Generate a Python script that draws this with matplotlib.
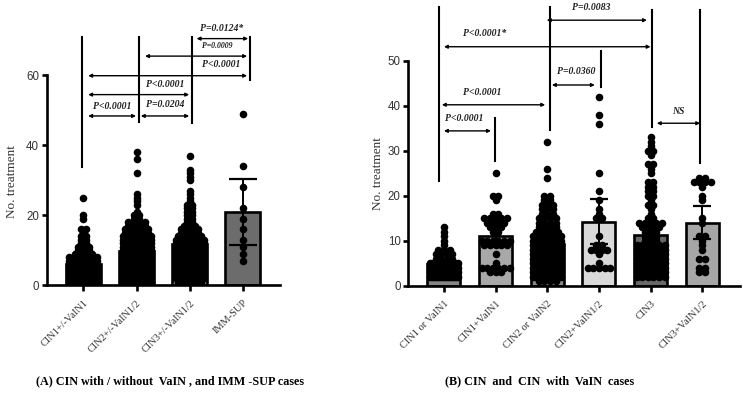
import numpy as np
import matplotlib
matplotlib.use("Agg")
import matplotlib.pyplot as plt

# ---------------- data: panel A ----------------
a_labels = ["CIN1+/-VaIN1", "CIN2+/-VaIN1/2", "CIN3+/-VaIN1/2", "IMM-SUP"]
a_means = [6.0, 9.6, 11.8, 20.8]
a_err_lo = [5.4, 8.8, 10.8, 11.5]
a_err_hi = [6.6, 10.4, 12.8, 30.2]

a1_vals = [1, 2, 3, 4, 5, 6, 7, 8, 9, 10, 11, 12, 13, 14, 15, 16, 19, 20, 25]
a1_cnts = [20, 25, 25, 22, 20, 16, 12, 7, 4, 3, 3, 2, 2, 2, 1, 2, 1, 1, 1]
a2_vals = [1, 2, 3, 4, 5, 6, 7, 8, 9, 10, 11, 12, 13, 14, 15, 16, 17, 18, 19, 20, 21,
           23, 24, 25, 26, 32, 36, 38]
a2_cnts = [10, 15, 18, 20, 18, 18, 17, 16, 15, 14, 12, 10, 8, 6, 5, 5, 4, 4, 2, 2, 1,
           1, 1, 1, 1, 1, 1, 1]
a3_vals = [1, 2, 3, 4, 5, 6, 7, 8, 9, 10, 11, 12, 13, 14, 15, 16, 17, 18, 19, 20, 21,
           22, 23, 24, 25, 26, 27, 30, 31, 32, 33, 37]
a3_cnts = [5, 10, 12, 14, 14, 14, 13, 13, 12, 10, 9, 8, 6, 5, 4, 4, 3, 2, 2, 2, 2,
           2, 2, 1, 1, 1, 1, 1, 1, 1, 1, 1]
a4_points = [49, 34, 28, 22, 19, 16, 13, 11, 9, 7]

a_pairs = [(0, 1, "P<0.0001"), (1, 2, "P=0.0204"), (0, 2, "P<0.0001"),
           (0, 3, "P<0.0001"), (1, 3, "P=0.0009"), (2, 3, "P=0.0124*")]

# ---------------- data: panel B ----------------
b_labels = ["CIN1 or VaIN1", "CIN1+VaIN1", "CIN2 or VaIN2", "CIN2+VaIN1/2",
            "CIN3", "CIN3+VaIN1/2"]
b_means = [4.8, 11.0, 9.2, 14.2, 11.3, 14.0]
b_err_lo = [4.3, 9.2, 8.4, 9.3, 10.3, 10.4]
b_err_hi = [5.3, 12.8, 10.0, 19.2, 12.3, 17.6]

b1_vals = [2, 3, 4, 5, 6, 7, 8, 9, 10, 11, 12, 13]
b1_cnts = [15, 18, 16, 10, 4, 4, 3, 1, 1, 1, 1, 1]
b2_points = [25, 20, 20, 19, 16, 16, 15, 15, 15, 15, 15, 14, 14, 14, 14, 13, 13, 13,
             12, 12, 10, 10, 10, 10, 10, 10, 9, 9, 9, 9, 9, 7, 5, 4, 4, 4, 4, 4, 4,
             3, 3, 3]
b3_vals = [1, 2, 3, 4, 5, 6, 7, 8, 9, 10, 11, 12, 13, 14, 15, 16, 17, 18, 19, 20,
           24, 26, 32]
b3_cnts = [4, 10, 12, 12, 12, 11, 11, 10, 9, 7, 6, 5, 4, 4, 4, 3, 3, 3, 2, 2,
           1, 1, 1]
b4_points = [42, 38, 36, 25, 21, 19, 17, 16, 15, 15, 11, 9, 9, 8, 8, 8, 8, 7, 5,
             4, 4, 4, 4, 4]
b5_vals = [2, 3, 4, 5, 6, 7, 8, 9, 10, 11, 12, 13, 14, 15, 16, 17, 18, 19, 20, 21,
           22, 23, 25, 26, 27, 29, 30, 31, 32, 33]
b5_cnts = [6, 8, 9, 10, 10, 10, 9, 6, 3, 3, 3, 4, 5, 2, 1, 1, 2, 1, 2, 2,
           2, 2, 1, 1, 2, 1, 2, 1, 1, 1]
b6_points = [24, 24, 23, 23, 23, 23, 22, 20, 19, 15, 14, 11, 11, 10, 9, 8, 6, 6,
             4, 4, 3, 3]

b_pairs = [(0, 1, "P<0.0001"), (0, 2, "P<0.0001"), (2, 3, "P=0.0360"),
           (0, 4, "P<0.0001*"), (2, 4, "P=0.0083"), (4, 5, "NS")]

# ---------------- layout / styles ----------------
a_colors = ["#8f8f8f", "#b0b0b0", "#8c8c8c", "#6c6c6c"]
b_colors = ["#858585", "#a8a8a8", "#8a8a8a", "#d9d9d9", "#686868", "#a6a6a6"]

# vertical guide lines: (x, y0, y1)
a_vlines = [(-0.03, 33.7, 70.8), (1.04, 46.6, 70.8), (2.05, 46.4, 71.0), (3.14, 58.6, 71.0)]
b_vlines = [(-0.10, 23.3, 61.9), (0.99, 27.7, 37.2), (2.05, 34.6, 61.9),
            (3.04, 44.1, 52.2), (4.03, 35.2, 61.3), (4.96, 27.2, 61.3)]
# arrows (x0, x1, y) and label (x, y, size) in the order of the pairs
a_arrows = [(0.09, 0.99, 48.3), (1.08, 1.99, 48.3), (0.09, 1.99, 54.4),
            (0.09, 3.08, 59.8), (1.16, 3.08, 65.4), (2.13, 3.10, 70.4)]
a_texts = [(0.55, 50.9, 7.0), (1.53, 51.6, 7.0), (1.53, 57.2, 7.0),
           (2.60, 63.0, 7.0), (2.52, 68.2, 5.6), (2.60, 73.4, 7.0)]
b_arrows = [(0.0, 0.91, 34.4), (-0.04, 1.96, 40.2), (2.09, 2.92, 44.6),
            (0.0, 4.0, 53.1), (1.99, 3.93, 59.0), (4.12, 4.96, 36.1)]
b_texts = [(0.39, 37.2, 7.0), (0.75, 43.0, 7.0), (2.56, 47.6, 7.0),
           (0.79, 56.0, 7.0), (2.86, 61.8, 7.0), (4.53, 38.8, 7.0)]

SERIF = ["Liberation Serif", "DejaVu Serif"]
SANS = ["Liberation Sans", "DejaVu Sans"]
DOT_D = 7.6       # dot diameter in px
SPACING = 5.6     # horizontal spacing of equal values in px
MAXOFF = 14.0     # max horizontal offset in px

fig = plt.figure(figsize=(7.43, 3.98), dpi=100)
axA = fig.add_axes([0.0629, 0.2839, 0.314, 0.7123])
axB = fig.add_axes([0.5495, 0.2822, 0.4464, 0.7123])


def spread(ax, xc, values):
    """Scatter-dot layout: equal values placed side by side, within bar width."""
    values = np.asarray(values, dtype=float)
    one = ax.transData.transform([[xc + 1, 0]])[0, 0] - ax.transData.transform([[xc, 0]])[0, 0]
    xs = np.zeros(len(values))
    for v in np.unique(values):
        idx = np.where(values == v)[0]
        n = len(idx)
        if n == 1:
            continue
        s = min(SPACING, 2 * MAXOFF / (n - 1))
        xs[idx] = (np.arange(n) - (n - 1) / 2) * s
    return xc + xs / one, values


def style_axes(ax, xlim, ylim, ybound, yticks, labels):
    ax.set_xlim(*xlim)
    ax.set_ylim(*ylim)
    for s in ["top", "right"]:
        ax.spines[s].set_visible(False)
    ax.spines["left"].set_bounds(*ybound)
    for s in ["left", "bottom"]:
        ax.spines[s].set_linewidth(1.9)
    ax.set_yticks(yticks)
    ax.set_yticklabels([str(t) for t in yticks], family=SANS, fontsize=8.3, color="#333333")
    ax.tick_params(axis="y", length=3.5, width=1.9, pad=2)
    ax.tick_params(axis="x", length=4.5, width=1.9, pad=5)
    ax.set_xticks(range(len(labels)))
    ax.set_xticklabels(labels, rotation=45, ha="right", va="top", rotation_mode="anchor",
                       family=SERIF, fontsize=7.5, color="#333333")
    ax.set_ylabel("No. treatment", family=SERIF, fontsize=9.5, color="#333333")


style_axes(axA, (-0.69, 3.70), (0, 81), (0, 60), [0, 20, 40, 60], a_labels)
style_axes(axB, (-0.69, 5.73), (0, 63), (0, 50), [0, 10, 20, 30, 40, 50], b_labels)
axA.yaxis.set_label_coords(-0.124, 0.364)
axB.yaxis.set_label_coords(-0.073, 0.396)

a_groups = [np.repeat(a1_vals, a1_cnts), np.repeat(a2_vals, a2_cnts),
            np.repeat(a3_vals, a3_cnts), np.array(a4_points)]
b_groups = [np.repeat(b1_vals, b1_cnts), np.array(b2_points), np.repeat(b3_vals, b3_cnts),
            np.array(b4_points), np.repeat(b5_vals, b5_cnts), np.array(b6_points)]


def draw_panel(ax, means, lo, hi, colors, groups, width, capsize):
    xs = np.arange(len(means))
    ax.bar(xs, means, width=width, color=colors, edgecolor="black", linewidth=1.9, zorder=2)
    for i, g in enumerate(groups):
        sx, sy = spread(ax, i, g)
        ax.scatter(sx, sy, s=(DOT_D / 1.389) ** 2, color="black", linewidths=0, zorder=3)
    yerr = np.array([np.array(means) - np.array(lo), np.array(hi) - np.array(means)])
    ax.errorbar(xs, means, yerr=yerr, fmt="none", ecolor="black", elinewidth=1.4,
                capsize=capsize, capthick=1.6, zorder=4)


draw_panel(axA, a_means, a_err_lo, a_err_hi, a_colors, a_groups, 0.66, 10)
draw_panel(axB, b_means, b_err_lo, b_err_hi, b_colors, b_groups, 0.64, 6.5)


def annotate(ax, vlines, arrows, texts, pairs):
    for x, y0, y1 in vlines:
        ax.plot([x, x], [y0, y1], color="black", lw=1.5, clip_on=False, zorder=5)
    for (x0, x1, y), (tx, ty, fs), (_, _, lab) in zip(arrows, texts, pairs):
        ax.annotate("", xy=(x1, y), xytext=(x0, y),
                    arrowprops=dict(arrowstyle="<|-|>", lw=1.0, color="black",
                                    mutation_scale=5, shrinkA=0, shrinkB=0),
                    annotation_clip=False)
        ax.text(tx, ty, lab, ha="center", va="center", fontsize=fs, fontstyle="italic",
                fontweight="bold", family=SERIF, color="#222222")


annotate(axA, a_vlines, a_arrows, a_texts, a_pairs)
annotate(axB, b_vlines, b_arrows, b_texts, b_pairs)

fig.text(170 / 743, 1 - 381 / 398, "(A) CIN with / without  VaIN , and IMM -SUP cases",
         ha="center", va="center", family=SERIF, fontweight="bold", fontsize=8.7)
fig.text(540 / 743, 1 - 381 / 398, "(B) CIN  and  CIN  with  VaIN  cases",
         ha="center", va="center", family=SERIF, fontweight="bold", fontsize=8.7)

fig.savefig("out.png", dpi=100)
